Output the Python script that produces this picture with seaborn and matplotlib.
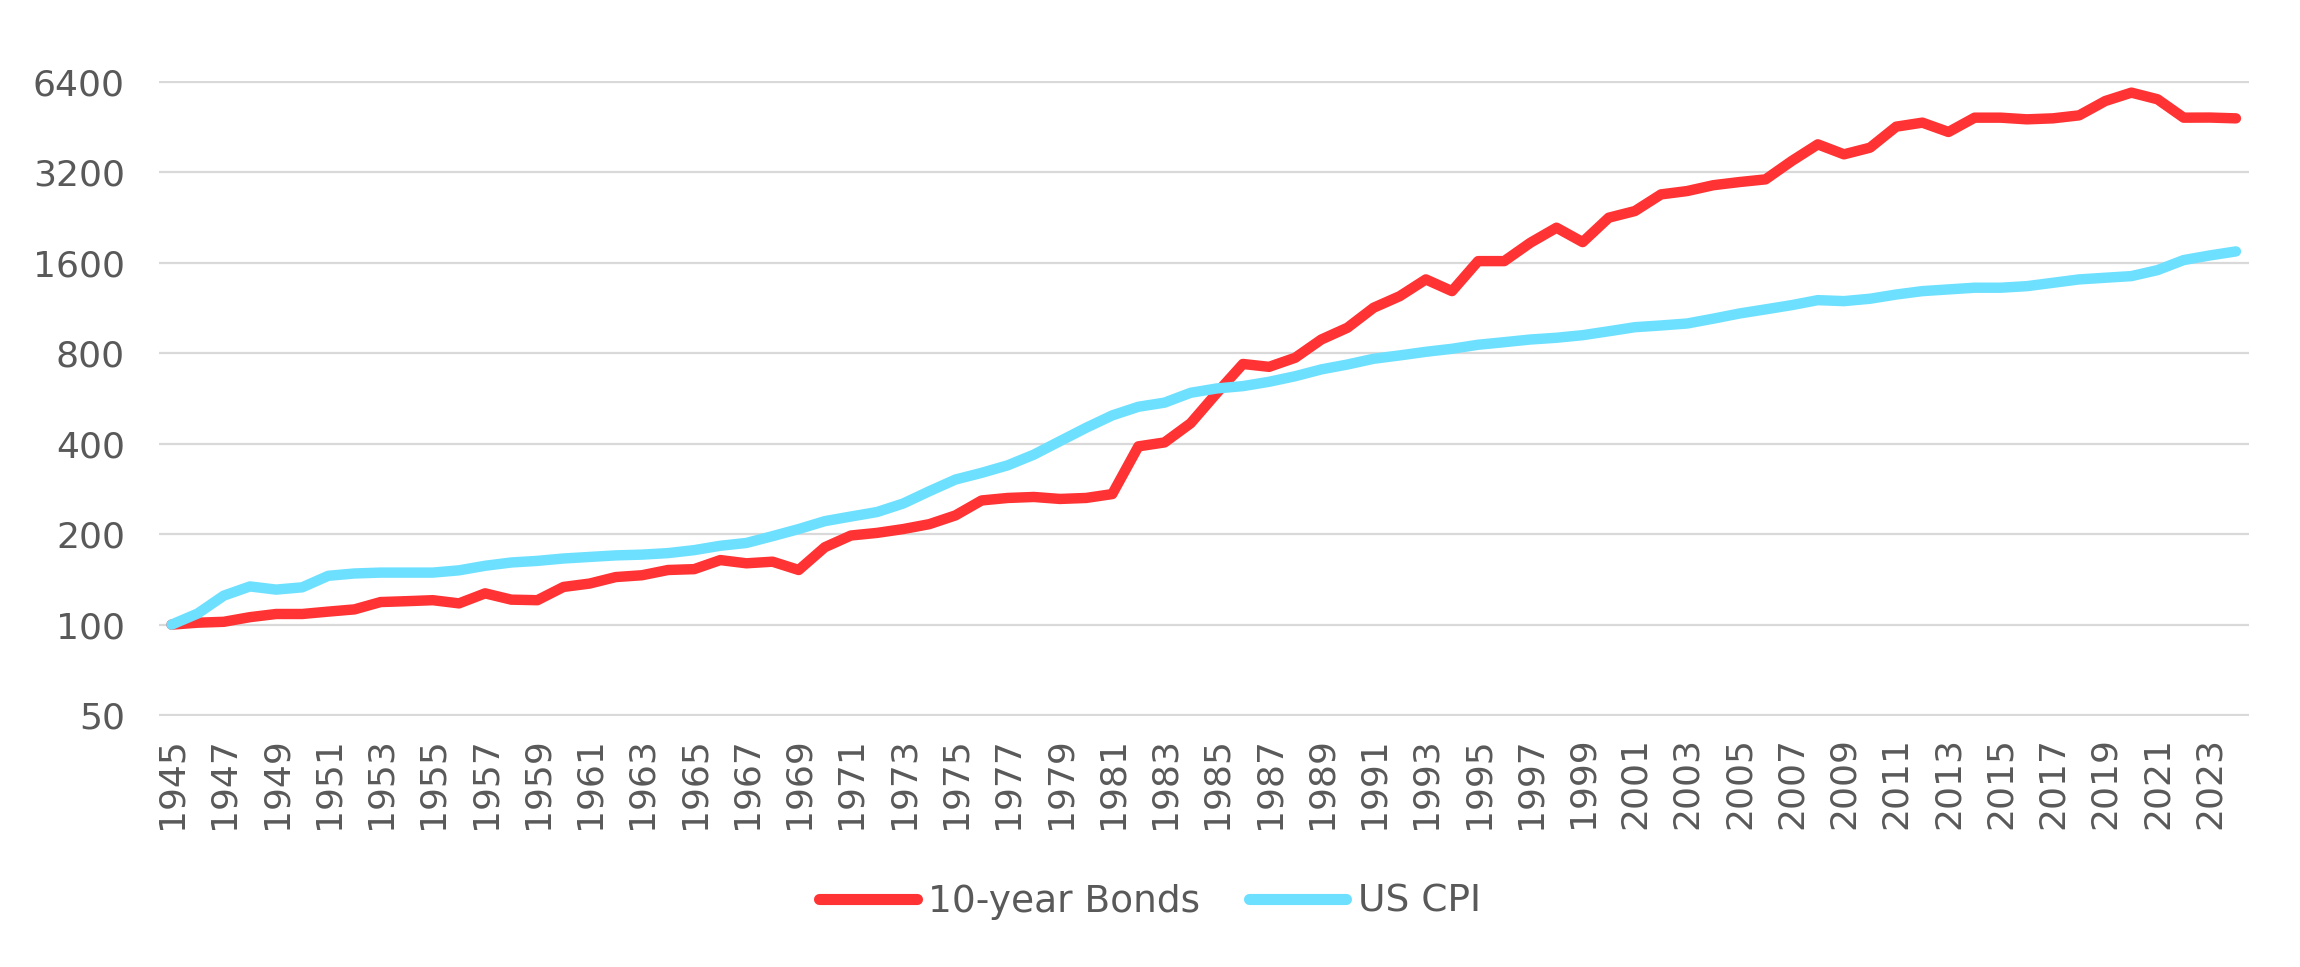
import numpy as np
import pandas as pd
import matplotlib
matplotlib.use("Agg")
import matplotlib.pyplot as plt
import seaborn as sns

# values (index, 1945 = 100)
years = list(range(1945, 2025))

bonds = [100, 101.5, 102.2, 105.9, 108.5, 108.5, 110.5, 112.4, 118.9, 119.7,
         120.6, 117.7, 127.1, 121.1, 120.6, 133.5, 137, 144, 146, 152,
         153, 164, 160, 162, 152, 181, 198, 202, 208, 216,
         231, 259, 264, 266, 262, 264, 272, 392, 404, 468,
         590, 737, 721, 773, 889, 973, 1134, 1239, 1409, 1288,
         1621, 1621, 1866, 2094, 1875, 2261, 2379, 2703, 2773, 2900,
         2971, 3033, 3490, 3966, 3674, 3867, 4542, 4684, 4360, 4866,
         4866, 4804, 4841, 4953, 5528, 5895, 5602, 4866, 4870, 4840]

cpi = [100, 108.9, 124.9, 134, 130.8, 133.1, 145.4, 148, 149, 149,
       149, 151.6, 157, 161, 163, 166, 168, 170, 171, 173,
       177, 183, 187, 197, 208, 221, 229, 237, 253, 278,
       304, 320, 339, 368, 408, 452, 497, 531, 548, 591,
       611, 622, 643, 671, 707, 734, 767, 787, 809, 828,
       854, 871, 889, 901, 919, 947, 977, 990, 1005, 1043,
       1085, 1120, 1157, 1202, 1193, 1215, 1255, 1288, 1305, 1322,
       1322, 1338, 1373, 1409, 1427, 1445, 1513, 1634, 1693, 1746]

series_names = ["10-year Bonds", "US CPI"]
colors = ["#FF3333", "#6DE0FF"]
y_ticks = [50, 100, 200, 400, 800, 1600, 3200, 6400]
x_ticks = list(range(1945, 2025, 2))

df = pd.DataFrame({
    "year": years * 2,
    "value": bonds + cpi,
    "series": [series_names[0]] * len(years) + [series_names[1]] * len(years),
})

sns.set_style("white")
plt.rcParams["font.family"] = ["DejaVu Sans"]
text_color = "#595959"

fig = plt.figure(figsize=(23, 9.67), dpi=100)
ax = fig.add_axes([159 / 2300, 1 - 716 / 967, 2090 / 2300, 635 / 967])

sns.lineplot(data=df, x="year", y="value", hue="series",
             palette=dict(zip(series_names, colors)), linewidth=7.5,
             solid_capstyle="round", solid_joinstyle="round",
             legend=False, ax=ax)

ax.set_yscale("log", base=2)
ax.set_ylim(50 / 2 ** 0.01, 6400 * 2 ** 0.01)
ax.set_xlim(1944.52, 2024.5)
ax.set_yticks(y_ticks)
ax.set_yticklabels([str(v) for v in y_ticks])
ax.yaxis.set_minor_locator(matplotlib.ticker.NullLocator())
ax.set_xticks(x_ticks)
ax.set_xticklabels([str(v) for v in x_ticks], rotation=90)
ax.set_xlabel("")
ax.set_ylabel("")

ax.grid(axis="y", color="#d9d9d9", linewidth=1.6)
ax.grid(axis="x", visible=False)
ax.set_axisbelow(True)
for s in ax.spines.values():
    s.set_visible(False)

ax.tick_params(axis="y", length=0, pad=24.5, labelsize=26, labelcolor=text_color)
ax.tick_params(axis="x", length=0, pad=15, labelsize=26, labelcolor=text_color)

handles = [plt.Line2D([], [], color=c, linewidth=8, solid_capstyle="round")
           for c in colors]
fig.legend(handles, series_names, loc="center", bbox_to_anchor=(0.5, 1 - 902 / 967),
           ncol=2, frameon=False, fontsize=27, labelcolor=text_color,
           handlelength=2.6, handletextpad=0.3, columnspacing=1.3)

fig.savefig("out.png", dpi=100)
